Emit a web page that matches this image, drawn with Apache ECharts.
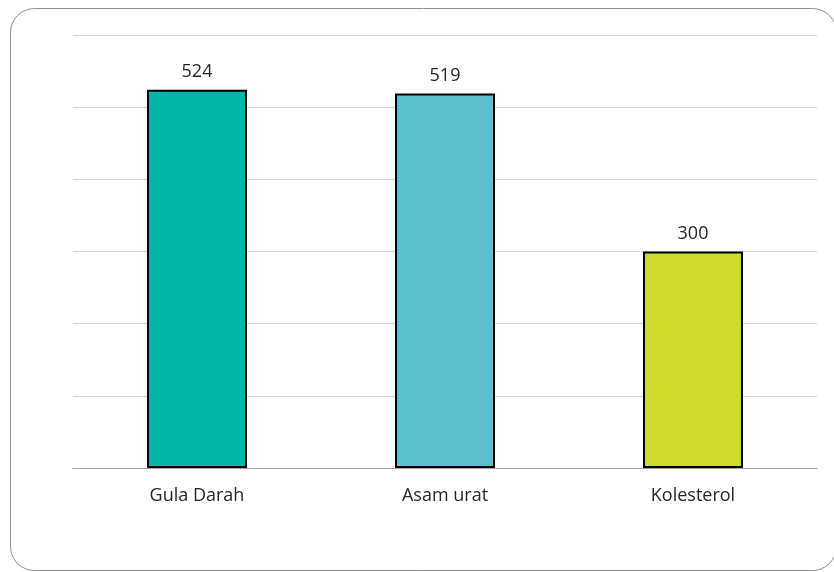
<!DOCTYPE html>
<html>
<head>
<meta charset="utf-8">
<script src="https://cdn.jsdelivr.net/npm/echarts@6/dist/echarts.min.js"></script>
<style>
  html, body { margin: 0; padding: 0; background: #fff; }
  #chart { width: 834px; height: 572px; }
</style>
</head>
<body>
<div id="chart"></div>
<script>
// data
const categories = ['Gula Darah', 'Asam urat', 'Kolesterol'];
const values = [524, 519, 300];
const barColors = ['#00B5A9', '#5DBFCD', '#CDDC29'];

const myChart = echarts.init(document.getElementById('chart'));

myChart.setOption({
  animation: false,
  backgroundColor: '#fff',
  grid: {
    left: 73,
    right: 17,
    top: 35,
    bottom: 104
  },
  graphic: [
    {
      type: 'rect',
      silent: true,
      z: -10,
      shape: { x: 10.5, y: 8.5, width: 826, height: 562, r: 24 },
      style: { fill: 'none', stroke: '#8c8c8c', lineWidth: 1 }
    }
  ],
  xAxis: {
    type: 'category',
    data: categories,
    axisTick: { show: false },
    axisLine: { lineStyle: { color: '#a6a6a6', width: 1 } },
    axisLabel: {
      color: '#262626',
      fontSize: 18,
      fontFamily: 'Open Sans',
      margin: 19
    }
  },
  yAxis: {
    type: 'value',
    min: 0,
    max: 600,
    interval: 100,
    axisLabel: { show: false },
    axisLine: { show: false },
    axisTick: { show: false },
    splitLine: { lineStyle: { color: '#d4d4d4', width: 1 } }
  },
  series: [
    {
      type: 'bar',
      barWidth: 100,
      data: values.map(function (v, i) {
        return {
          value: v,
          itemStyle: { color: barColors[i] }
        };
      }),
      itemStyle: {
        borderColor: '#000',
        borderWidth: 2
      },
      label: {
        show: true,
        position: 'top',
        distance: 9,
        color: '#262626',
        fontSize: 18,
        fontFamily: 'Open Sans'
      }
    }
  ]
});
</script>
</body>
</html>
